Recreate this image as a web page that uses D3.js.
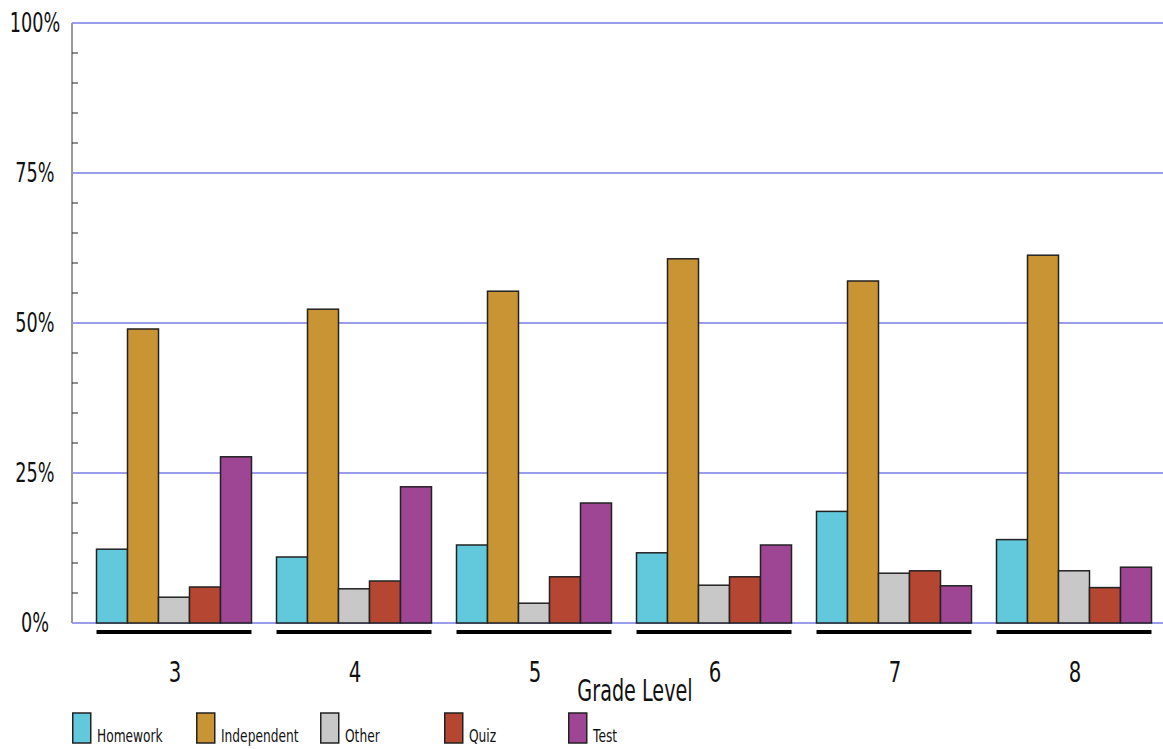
<!DOCTYPE html>
<html>
<head>
<meta charset="utf-8">
<script src="https://cdn.jsdelivr.net/npm/d3@7"></script>
<style>
html,body{margin:0;padding:0;background:#fff;}
text{font-family:"DejaVu Sans",Verdana,sans-serif;fill:#111;}
</style>
</head>
<body>
<svg id="chart" width="1163" height="749"></svg>
<script>
const grades = ["3","4","5","6","7","8"];
const seriesNames = ["Homework","Independent","Other","Quiz","Test"];
const seriesColors = ["#62c8db","#c99433","#c8c8c8","#b54632","#9e4694"];
const homework    = [12.3, 11.0, 13.0, 11.7, 18.6, 13.9];
const independent = [49.0, 52.3, 55.3, 60.7, 57.0, 61.3];
const other       = [4.3, 5.7, 3.3, 6.3, 8.3, 8.7];
const quiz        = [6.0, 7.0, 7.7, 7.7, 8.7, 5.9];
const test        = [27.7, 22.7, 20.0, 13.0, 6.2, 9.3];
const yTicks = [0, 25, 50, 75, 100];
const yMinorTicks = d3.range(0, 101, 5);
const xTitle = "Grade Level";

const values = [homework, independent, other, quiz, test];
const svg = d3.select("#chart");
const x0 = d3.scaleBand().domain(grades).range([84, 1164]).paddingInner(25/180).paddingOuter(25/360);
const x1 = d3.scaleBand().domain(seriesNames).range([0, x0.bandwidth()]);
const y = d3.scaleLinear().domain([0, 100]).range([623, 23]);
const color = d3.scaleOrdinal().domain(seriesNames).range(seriesColors);

// gridlines
svg.append("g").selectAll("line").data(yTicks).join("line")
  .attr("x1", 72).attr("x2", 1163)
  .attr("y1", d => y(d)).attr("y2", d => y(d))
  .attr("stroke", "#9c9cec").attr("stroke-width", 2);

// y axis line + minor ticks
svg.append("line").attr("x1", 72).attr("x2", 72).attr("y1", y(100)).attr("y2", y(0))
  .attr("stroke", "#999").attr("stroke-width", 2);
svg.append("g").selectAll("line").data(yMinorTicks.filter(d => d % 25 !== 0)).join("line")
  .attr("x1", 72).attr("x2", 78)
  .attr("y1", d => y(d)).attr("y2", d => y(d))
  .attr("stroke", "#222").attr("stroke-width", 1);

// y labels
svg.append("g").selectAll("text").data(yTicks).join("text")
  .attr("transform", d => `translate(35,${y(d)}) scale(0.68,1)`)
  .attr("text-anchor", "middle").attr("dy", "0.36em")
  .style("font-size", "26px")
  .text(d => d + "%");

// bars
const groups = svg.append("g").selectAll("g").data(grades).join("g")
  .attr("transform", d => `translate(${x0(d)},0)`);
groups.selectAll("rect").data((g, gi) => seriesNames.map((s, si) => ({s, v: values[si][gi]}))).join("rect")
  .attr("x", d => x1(d.s)).attr("width", x1.bandwidth())
  .attr("y", d => y(d.v)).attr("height", d => y(0) - y(d.v))
  .attr("fill", d => color(d.s)).attr("stroke", "#222").attr("stroke-width", 1.5);

// group underline
groups.append("rect").attr("x", 0).attr("width", x0.bandwidth())
  .attr("y", 630).attr("height", 4).attr("fill", "#000");

// x labels
groups.append("text")
  .attr("transform", `translate(${x0.bandwidth()/2 + 1},682) scale(0.68,1)`)
  .attr("text-anchor", "middle").style("font-size", "29px")
  .text(d => d);

// axis title
svg.append("text").attr("transform", "translate(635,701) scale(0.64,1)")
  .attr("text-anchor", "middle").style("font-size", "30px").text(xTitle);

// legend
const leg = svg.append("g").selectAll("g").data(seriesNames).join("g")
  .attr("transform", (d, i) => `translate(${72 + i * 124},713)`);
leg.append("rect").attr("x", 0.75).attr("y", 0).attr("width", 18).attr("height", 30)
  .attr("fill", d => color(d)).attr("stroke", "#222").attr("stroke-width", 1.5);
leg.append("text").attr("transform", "translate(25,29) scale(0.72,1)")
  .style("font-size", "17px").text(d => d);
</script>
</body>
</html>
